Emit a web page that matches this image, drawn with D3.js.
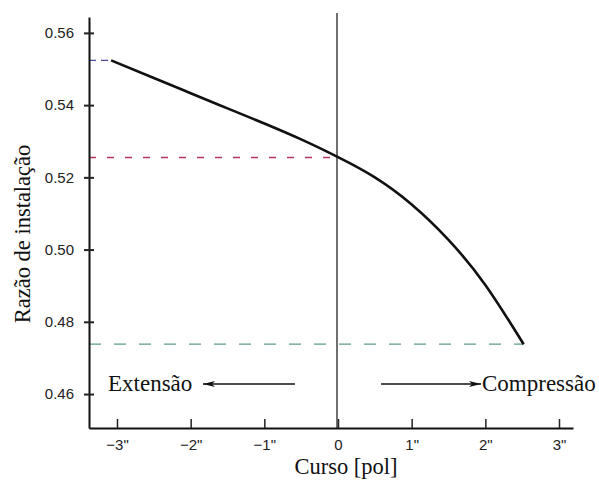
<!DOCTYPE html>
<html>
<head>
<meta charset="utf-8">
<script src="https://cdn.jsdelivr.net/npm/d3@7"></script>
<style>
	body { margin: 0; background: #fff; }
	svg { display: block; }
	.tick text { font-family: "Liberation Sans", Arial, sans-serif; font-size: 15px; fill: #222; }
	.lbl { font-family: "Liberation Serif", "Times New Roman", serif; fill: #111; }
</style>
</head>
<body>
<div id="vis"></div>
<script>
// curve
var stroke = [-3.08, -2.5, -2, -1.5, -1, -0.5, 0, 0.5, 1, 1.5, 2, 2.52];
var ratio  = [0.5524, 0.5475, 0.5433, 0.5391, 0.5349, 0.5305, 0.5256, 0.5200, 0.5125, 0.5027, 0.4902, 0.4738];

var xTicks = [-3, -2, -1, 0, 1, 2, 3];
var xTickLabels = ["\u22123\"", "\u22122\"", "\u22121\"", "0", "1\"", "2\"", "3\""];
var yTicks = [0.46, 0.48, 0.50, 0.52, 0.54, 0.56];

// reference levels (extension end, static, compression end)
var refLevels = [0.5524, 0.5255, 0.4738];
var refEnds   = [-3.08, 0, 2.52];
var refColors = ["#4b4b9e", "#b8365e", "#5f9a8e"];
var refDash   = ["7,5", "7,11", "12,13"];

var w = 599, h = 485;
var mLeft = 89, mRight = 573, mTop = 17, mBottom = 428;

var x = d3.scaleLinear().domain([-3.38, 3.19]).range([mLeft, mRight]);
var y = d3.scaleLinear().domain([0.4506, 0.5644]).range([mBottom, mTop]);

var svg = d3.select("#vis").append("svg")
	.attr("width", w)
	.attr("height", h);

// dashed reference lines
var i;
for (i = 0; i < refLevels.length; i++) {
	svg.append("line")
		.attr("x1", mLeft)
		.attr("x2", x(refEnds[i]))
		.attr("y1", y(refLevels[i]))
		.attr("y2", y(refLevels[i]))
		.attr("stroke", refColors[i])
		.attr("stroke-width", 1.3)
		.attr("stroke-dasharray", refDash[i]);
}

// zero line
svg.append("line")
	.attr("x1", x(0) - 1)
	.attr("x2", x(0) - 1)
	.attr("y1", 13)
	.attr("y2", mBottom)
	.attr("stroke", "#333")
	.attr("stroke-width", 1.4);

// axes
var xAxis = d3.axisBottom(x)
	.tickValues(xTicks)
	.tickSizeInner(-9)
	.tickSizeOuter(0)
	.tickPadding(11)
	.tickFormat(function (d, j) { return xTickLabels[j]; });

var gx = svg.append("g")
	.attr("transform", "translate(0," + mBottom + ")")
	.call(xAxis);
gx.select(".domain").attr("stroke", "#111").attr("stroke-width", 2);
gx.selectAll(".tick line").attr("stroke", "#222").attr("stroke-width", 1.5);

var yAxis = d3.axisLeft(y)
	.tickValues(yTicks)
	.tickSizeInner(5)
	.tickSizeOuter(0)
	.tickPadding(10)
	.tickFormat(d3.format(".2f"));

var gy = svg.append("g")
	.attr("transform", "translate(" + mLeft + ",0)")
	.call(yAxis);
gy.select(".domain").attr("stroke", "#111").attr("stroke-width", 2);
gy.selectAll(".tick line").attr("x2", -5).attr("x1", 5).attr("stroke", "#222").attr("stroke-width", 2);

// curve
var pts = stroke.map(function (d, j) { return [d, ratio[j]]; });
svg.append("path")
	.datum(pts)
	.attr("fill", "none")
	.attr("stroke", "#111")
	.attr("stroke-width", 2.6)
	.attr("d", d3.line()
		.x(function (d) { return x(d[0]); })
		.y(function (d) { return y(d[1]); })
		.curve(d3.curveNatural));

// arrows
var defs = svg.append("defs");
defs.append("marker")
	.attr("id", "head")
	.attr("viewBox", "0 0 12 6")
	.attr("refX", 12)
	.attr("refY", 3)
	.attr("markerWidth", 12)
	.attr("markerHeight", 6)
	.attr("markerUnits", "userSpaceOnUse")
	.attr("orient", "auto")
	.append("path")
	.attr("d", "M0,0 L12,3 L0,6 L3,3 Z")
	.attr("fill", "#111");

svg.append("line")
	.attr("x1", 295).attr("x2", 203)
	.attr("y1", 384).attr("y2", 384)
	.attr("stroke", "#111").attr("stroke-width", 1.5)
	.attr("marker-end", "url(#head)");

svg.append("line")
	.attr("x1", 381).attr("x2", 481)
	.attr("y1", 384).attr("y2", 384)
	.attr("stroke", "#111").attr("stroke-width", 1.5)
	.attr("marker-end", "url(#head)");

svg.append("text")
	.attr("class", "lbl")
	.attr("x", 108).attr("y", 391)
	.attr("font-size", 23)
	.text("Extensão");

svg.append("text")
	.attr("class", "lbl")
	.attr("x", 482).attr("y", 391)
	.attr("font-size", 23)
	.text("Compressão");

// axis titles
svg.append("text")
	.attr("class", "lbl")
	.attr("x", 346).attr("y", 474)
	.attr("text-anchor", "middle")
	.attr("font-size", 22.5)
	.text("Curso [pol]");

svg.append("text")
	.attr("class", "lbl")
	.attr("transform", "translate(30,234) rotate(-90)")
	.attr("text-anchor", "middle")
	.attr("font-size", 22.5)
	.text("Razão de instalação");
</script>
</body>
</html>
